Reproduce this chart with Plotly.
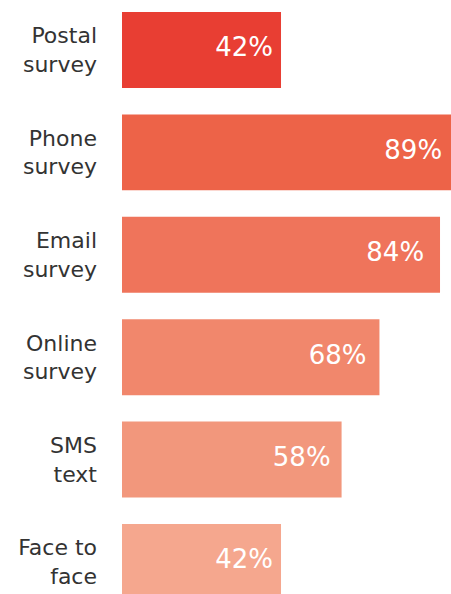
import plotly.graph_objects as go

categories = ["Postal<br>survey", "Phone<br>survey", "Email<br>survey",
              "Online<br>survey", "SMS<br>text", "Face to<br>face"]
values = [42, 89, 84, 68, 58, 42]
labels = [f"{v}%" for v in values]
colors = ["#E83E33", "#ED6348", "#EF745B", "#F1876C", "#F2977C", "#F5A78E"]
label_frac = 0.95  # value labels end at 95% of each bar's length

fig = go.Figure()
fig.add_trace(go.Bar(
    x=values,
    y=categories,
    orientation="h",
    marker=dict(color=colors, line=dict(width=0)),
    cliponaxis=True,
    hoverinfo="skip",
))
fig.add_trace(go.Scatter(
    x=[v * label_frac for v in values],
    y=categories,
    mode="text",
    text=labels,
    textposition="middle left",
    textfont=dict(family="DejaVu Sans", size=26, color="white"),
    hoverinfo="skip",
    cliponaxis=False,
))

fig.update_layout(
    width=451,
    height=594,
    margin=dict(l=122, r=0, t=0, b=0),
    paper_bgcolor="white",
    plot_bgcolor="white",
    bargap=0.258,
    showlegend=False,
)
fig.update_xaxes(range=[0, 86.9], visible=False, showgrid=False, zeroline=False)
fig.update_yaxes(
    range=[5.313, -0.488],
    showgrid=False,
    zeroline=False,
    showline=False,
    ticks="",
    ticklabelstandoff=24,
    tickfont=dict(family="DejaVu Sans", size=22, color="#333333"),
)

fig.write_html("out.html", config={"displayModeBar": False})
